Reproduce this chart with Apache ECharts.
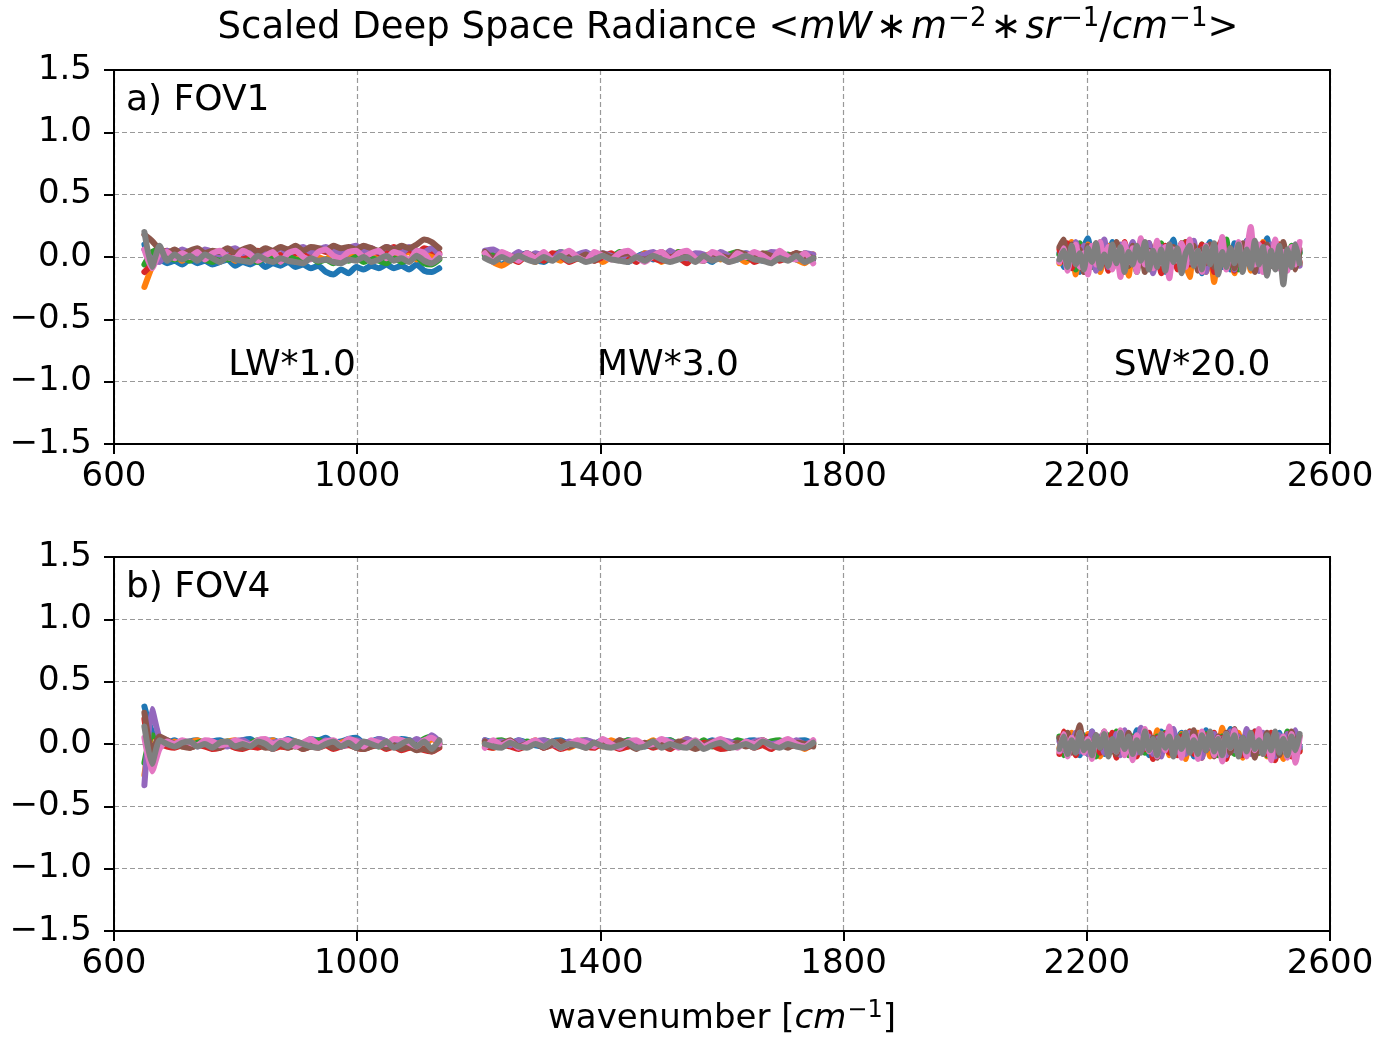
<!DOCTYPE html>
<html>
<head>
<meta charset="utf-8">
<script src="https://cdn.jsdelivr.net/npm/echarts@6/dist/echarts.min.js"></script>
<style>
  html, body { margin: 0; padding: 0; background: #fff; }
  #chart { width: 1381px; height: 1038px; }
</style>
</head>
<body>
<div id="chart"></div>
<script>
// band edges [cm-1]
const LW_BAND = [650, 1135]
const MW_BAND = [1210, 1750]
const SW_BAND = [2155, 2550]

const X_TICKS = [600, 1000, 1400, 1800, 2200, 2600]
const Y_TICKS = [-1.5, -1.0, -0.5, 0.0, 0.5, 1.0, 1.5]

// tab10 order: blue, orange, green, red, purple, brown, pink, gray
const COLORS = ['#1f77b4', '#ff7f0e', '#2ca02c', '#d62728', '#9467bd', '#8c564b', '#e377c2', '#7f7f7f']

// scaled radiance, in units of 0.01
const FOV1_LW = [
  [10,-6,-2,-5,-3,-6,-2,-5,-3,-6,-4,-2,-7,-4,-6,-3,-8,-5,-7,-4,-8,-6,-9,-7,-12,-14,-10,-13,-8,-10,-7,-9,-6,-9,-7,-10,-6,-11,-12,-9],
  [-24,-8,3,-2,1,-3,2,-1,3,-2,0,2,-3,1,-1,3,-2,0,2,-2,1,-3,2,0,-2,3,-1,1,4,-1,2,0,3,-1,2,4,-2,3,1,-1],
  [-6,4,6,1,-2,0,-3,1,-2,-4,0,-2,1,-3,-1,-4,0,-2,-4,1,-2,-3,0,-4,-2,-5,-1,-3,0,-4,-1,-3,-5,-1,-4,-2,0,-5,-6,-2],
  [-12,-6,3,5,1,4,0,3,5,1,4,2,6,1,3,5,2,4,1,6,3,5,2,6,4,7,3,6,8,4,7,3,5,8,4,6,2,7,5,3],
  [6,-2,-4,5,2,6,3,1,6,4,2,5,7,3,5,2,6,4,7,3,6,8,4,6,8,5,3,7,9,5,7,4,8,6,3,8,5,4,7,2],
  [18,13,6,3,6,2,5,7,3,5,4,7,3,6,8,4,7,5,8,6,9,5,8,7,5,9,7,8,6,9,7,5,8,6,9,7,10,14,12,7],
  [6,-9,3,4,-1,3,0,4,-2,3,5,0,-1,5,2,-3,1,4,-4,3,5,0,-2,4,6,1,-1,4,5,0,3,5,-1,4,2,-3,5,3,-4,2],
  [20,-8,9,-3,2,-2,1,-3,2,-1,-4,0,-2,-3,-4,1,-2,-4,-1,-3,-4,-5,-1,-3,-2,-4,-5,-2,-3,0,-4,-2,1,-3,-1,-4,1,-3,-5,-1]
]
const FOV1_MW = [
  [2,-3,-6,-2,1,3,-2,-4,1,2,-3,0,3,1,-3,1,2,-4,0,3,-2,1,3,-1,-3,2,0,-4,2,1,-2,3,0,-3,2,1,-2,3,0,-2],
  [3,-4,-7,-3,2,-1,-4,2,0,-3,3,-1,-2,2,-4,0,2,-1,-3,3,1,-4,0,4,1,-3,0,3,-2,2,0,-4,2,-1,-3,3,1,-2,-5,2],
  [1,4,2,-2,3,-1,2,-3,1,4,2,-1,-3,3,1,-1,4,2,-2,0,3,1,-1,4,2,0,-3,3,-1,2,4,0,-2,2,3,-1,2,-2,3,0],
  [4,-2,3,-1,-4,2,0,-3,3,1,-4,-1,2,-3,0,3,-2,0,-4,2,-1,-3,3,0,-5,2,-2,0,3,-3,0,2,-4,-1,2,-3,0,3,-2,-1],
  [5,6,2,0,4,-1,3,1,-2,4,0,2,4,-1,3,1,-2,3,0,2,4,-1,5,1,-1,3,2,-2,4,1,0,3,1,-1,4,3,1,-1,3,2],
  [4,-1,3,1,-2,3,0,2,-2,1,3,-1,2,-3,3,0,2,3,-1,-2,1,4,-1,3,1,-2,-3,3,1,-1,4,2,-1,3,1,-2,0,3,1,-1],
  [3,-4,4,1,-3,3,-1,4,-2,1,5,0,-3,4,1,-2,3,5,0,-4,1,4,-2,3,5,-1,-3,4,1,-4,3,0,4,1,-3,5,0,-2,3,-5],
  [-1,-4,0,-3,1,-2,-4,0,-3,1,-3,-1,-4,-2,1,-2,-3,-4,0,-3,1,-2,-4,-2,0,-4,1,-3,-1,-4,-2,1,-2,-3,-5,-1,-3,1,-4,-1]
]
const FOV1_SW = [
  [3,-8,10,-5,6,-12,8,15,-4,9,-10,5,-6,12,-3,7,-11,4,10,-7,2,-9,11,-5,8,-3,-12,6,14,-6,3,-9,10,-2,7,-13,5,12,-4,9,-8,3,-10,11,-6,4,13,-5,8,-11,2,15,-7,6,-9,10,-3,5,-8,4],
  [-5,6,-9,12,-14,4,-7,10,-3,8,-12,2,9,-6,11,-9,3,-15,7,-4,10,-8,5,-11,12,-2,8,-10,4,-7,11,-5,-16,6,-3,9,-12,7,-20,5,10,-8,3,-13,9,-4,6,-11,8,-6,12,-9,4,-7,10,-14,5,-3,8,-6],
  [2,9,-6,5,-10,11,-3,7,-8,4,12,-5,3,-9,8,-2,10,-7,5,-12,9,-4,6,-10,3,11,-6,8,-3,5,-9,12,-5,4,-7,10,-11,6,-2,9,-6,14,-8,3,-10,7,-4,11,-7,5,-9,8,-3,12,-6,4,-10,9,-5,3],
  [6,-4,11,-9,3,8,-12,5,-6,10,-3,7,-11,4,9,-7,12,-5,2,-10,8,-6,11,-3,5,-13,9,-4,7,-10,3,12,-6,8,-4,10,-9,5,-12,7,14,-6,3,-11,9,-5,12,-8,4,-10,11,-3,6,-9,10,-12,5,-6,9,-4],
  [-3,8,-10,4,12,-6,9,-5,3,-11,7,14,-8,5,-4,10,-7,3,12,-9,6,-2,11,-13,4,8,-6,10,-3,5,-10,7,-4,13,-8,6,-12,9,-5,3,11,-7,5,-10,8,-3,12,-6,9,-11,4,-8,10,-5,7,-13,6,-4,10,-7],
  [8,14,-5,10,-3,6,-12,9,-4,11,-8,3,7,-6,12,-10,4,-7,9,-3,13,-12,5,-8,10,-4,6,-13,8,-3,11,-7,4,9,-11,6,-5,10,-8,3,12,-6,7,-9,4,11,-5,8,-12,6,-3,10,-7,5,-9,12,-4,7,-10,6],
  [-4,7,-11,5,10,-8,3,-14,9,-6,12,-3,8,-10,5,-16,11,-4,7,-12,15,-6,4,-9,13,-5,8,-17,6,-3,11,-8,14,-6,5,-12,9,-3,10,-7,16,-10,6,-4,12,-8,5,24,-6,10,-12,7,-5,14,-9,4,-11,8,-6,12],
  [-2,5,-8,9,-6,3,-10,7,-4,11,-9,2,-7,10,-5,8,-12,4,-6,9,-3,12,-10,5,-8,6,-11,10,-4,7,-13,3,9,-7,5,-10,8,-6,11,-14,4,-8,7,-5,10,-12,6,-9,13,-6,8,-15,5,-10,9,-22,6,-8,10,-5]
]

const FOV4_LW = [
  [30,10,4,1,3,-1,2,3,0,2,3,0,1,3,4,0,2,3,1,4,2,0,4,3,5,1,2,4,5,1,2,4,2,0,4,3,1,3,5,0],
  [-25,6,5,-1,2,-2,1,3,0,-2,1,2,3,-1,-2,2,0,3,-2,1,2,-2,3,0,2,-2,1,3,0,-2,1,2,-2,3,0,-3,2,-1,4,0],
  [-15,7,4,0,-1,2,-2,1,2,-1,-2,2,0,-2,1,3,-1,-2,2,0,-2,1,-1,3,1,-1,-2,2,3,-1,1,-2,0,3,1,-2,0,4,6,1],
  [20,-12,0,-2,-3,-1,-3,-1,-2,-4,-3,-1,-3,-4,-2,-3,-1,-4,-2,-3,-1,-4,-2,-3,-1,-4,-2,-1,-3,-4,-2,-1,-4,-2,-5,-3,-2,-5,-6,-3],
  [-33,28,5,3,0,1,2,-2,1,2,-1,-2,2,3,0,1,-2,1,2,3,0,-2,2,-1,3,1,-2,0,3,1,0,4,2,-2,3,0,4,1,7,2],
  [25,-6,6,3,0,-2,-3,-1,0,-2,-3,1,-2,-3,-1,0,-3,-2,0,-3,-1,-4,-2,-1,0,-3,-1,0,-3,-4,-2,0,-3,-1,-4,-2,-5,-4,-6,-2],
  [5,-22,-4,2,0,3,1,-1,3,2,-1,0,3,1,-1,3,4,0,2,3,-2,1,4,0,2,3,-1,4,2,-2,3,1,0,4,3,1,-2,3,5,0],
  [14,-16,3,0,-2,1,2,-2,0,-3,1,2,-2,0,-2,2,0,-4,1,-2,2,0,-2,-3,0,2,-2,1,-3,2,0,-2,2,-3,0,3,-2,2,-4,3]
]
const FOV4_MW = [
  [3,1,-2,0,3,1,-1,-2,2,3,0,1,-2,0,3,1,-1,3,1,-2,0,2,3,-1,1,-2,0,3,1,0,-2,2,3,0,1,-1,-2,2,3,0],
  [1,-3,0,2,-2,0,3,-2,0,2,-3,0,1,0,-2,3,0,-2,1,0,3,-2,0,1,4,0,-2,1,0,-3,2,0,-2,3,0,1,-2,0,-4,1],
  [0,2,3,0,-2,2,0,3,1,-1,-2,2,3,0,1,-2,0,3,1,-1,2,-2,3,0,2,-1,3,-2,1,0,3,1,-2,0,2,3,-1,1,-2,0],
  [-2,-3,0,-2,-4,-1,1,-3,-1,-4,-2,0,-2,-3,1,-1,-4,-2,-1,0,-3,-1,-4,0,-2,-3,1,-1,-4,-3,-1,0,-3,-1,-4,0,-2,-1,-3,-1],
  [3,0,2,-1,3,0,2,3,0,-2,2,0,3,1,-1,-2,3,0,2,-1,0,3,2,0,4,1,-2,0,3,2,0,-1,2,3,0,1,-2,3,0,2],
  [2,-2,0,3,-2,0,1,-3,0,2,-2,0,-3,1,0,-2,3,0,-4,1,-2,0,-3,2,0,-4,-1,2,0,-3,1,-2,0,3,-2,0,-3,1,0,-2],
  [-3,3,-1,2,-3,0,3,-2,2,-3,0,3,1,-2,4,0,-3,2,3,-1,0,4,1,-3,0,3,-2,1,4,0,-3,2,0,3,-2,1,4,0,-2,3],
  [0,-2,-3,1,-2,-3,0,-2,2,-3,0,-1,-3,1,-2,-3,-1,1,-3,-2,2,-3,0,-2,-3,2,-4,-1,1,-3,-2,0,-3,2,-1,-3,0,-2,-3,1]
]
const FOV4_SW = [
  [4,-6,8,-3,5,-9,7,-2,10,-5,3,-8,6,-4,9,-7,2,8,-5,11,-3,6,-9,4,-6,10,-2,7,-8,3,9,-5,6,-10,4,-3,11,-7,5,-2,8,-6,12,-4,3,-9,7,-5,10,-3,6,-8,4,-11,9,-4,6,-7,10,-2],
  [-3,7,-5,9,-8,4,-2,8,-6,3,-10,6,-4,8,-7,2,10,-5,4,-9,7,-3,5,-8,11,-4,6,-9,3,-6,8,-12,5,-3,9,-7,4,-10,6,-4,13,-8,3,-6,9,-11,5,-2,8,-7,4,-10,7,-3,6,-12,4,-8,9,-5],
  [6,-9,4,-5,8,-3,6,-8,3,-10,5,-4,7,-6,10,-3,5,-9,6,-2,8,-7,4,-10,6,-3,9,-6,2,-8,7,-4,10,-5,3,-7,8,-3,5,-9,6,-2,7,-8,4,-5,9,-3,6,-7,3,-9,8,-4,5,-6,10,-3,7,-4],
  [-8,10,-5,3,-9,12,-4,6,-10,4,-7,8,-3,9,-11,5,-6,7,-2,-10,6,-4,9,-12,5,-3,8,-7,3,-9,6,-5,10,-8,4,-11,7,-3,9,-6,5,-12,8,-4,6,-9,3,-7,10,-5,4,-8,9,-13,6,-4,8,-10,5,-6],
  [2,-5,7,-3,9,-6,4,-8,10,-2,6,-7,3,-5,8,-9,11,-4,5,-7,13,-3,6,-8,4,-10,7,-2,12,-6,3,-8,9,-4,6,-11,5,-3,8,-7,4,-9,10,-5,6,-3,12,-8,4,-6,9,-2,5,-10,7,-4,8,-6,11,-3],
  [5,-4,9,-7,3,15,-6,4,-9,7,-3,10,-5,2,-8,6,-4,9,-10,3,-6,8,-3,5,-11,7,-4,10,-6,3,-9,5,-2,11,-7,4,-5,8,-10,6,-3,9,-7,12,-4,5,-8,3,-11,6,-4,9,-5,7,-9,4,-6,10,-4,6],
  [-6,8,-10,5,-3,9,-7,4,-12,6,-2,10,-8,3,-6,11,-9,5,-13,7,-4,12,-6,3,-10,8,-5,14,-7,4,-11,9,-3,6,-12,10,-4,7,-9,5,-14,8,-3,11,-6,4,-10,7,-5,12,-8,3,-13,9,-4,6,-11,8,-15,5],
  [-4,6,-8,3,-7,9,-5,2,-9,7,-3,8,-10,4,-6,9,-4,6,-8,3,-7,10,-5,4,-9,8,-3,6,-10,5,-4,9,-7,3,-8,7,-5,10,-6,4,-9,8,-3,7,-10,5,-6,9,-4,3,-8,7,-5,10,-7,4,-9,6,-5,8]
]

const FONT = 'DejaVu Sans'
const TICK_SIZE = 34
const TEXT_SIZE = 36

// plot boxes, pixels
const BOXES = [
  { left: 114, top: 70, width: 1216, height: 374 },
  { left: 114, top: 557, width: 1216, height: 374 }
]

function linspace(a, b, n) {
  const out = []
  for (let i = 0; i < n; i++) out.push(a + (b - a) * i / (n - 1))
  return out
}

// one line per colour, the three bands split by a gap
function buildSeries(bands, gridIndex) {
  const bandDefs = [LW_BAND, MW_BAND, SW_BAND]
  return COLORS.map((color, k) => {
    const data = []
    bands.forEach((band, b) => {
      const vals = band[k]
      const xs = linspace(bandDefs[b][0], bandDefs[b][1], vals.length)
      xs.forEach((x, i) => data.push([x, vals[i] / 100]))
      data.push([bandDefs[b][1] + 20, '-'])
    })
    return {
      type: 'line',
      xAxisIndex: gridIndex,
      yAxisIndex: gridIndex,
      data: data,
      showSymbol: false,
      smooth: 0.2,
      connectNulls: false,
      lineStyle: { color: color, width: 6, cap: 'round', join: 'round' },
      itemStyle: { color: color },
      silent: true,
      animation: false
    }
  })
}

function fmtTick(v) {
  const s = Math.abs(v).toFixed(1)
  return v < 0 ? '\u2212' + s : s
}

const axisCommon = {
  axisLine: { show: true, onZero: false, lineStyle: { color: '#000', width: 2 } },
  axisTick: { show: true, length: 10, lineStyle: { color: '#000', width: 2 } },
  splitLine: { show: true, lineStyle: { color: '#999', width: 1.2, type: [5, 3] } }
}

function xAxis(gridIndex) {
  return Object.assign({}, axisCommon, {
    type: 'value', gridIndex: gridIndex, min: X_TICKS[0], max: X_TICKS[X_TICKS.length - 1], interval: 400,
    axisLabel: { color: '#000', fontSize: TICK_SIZE, fontFamily: FONT, margin: 16, formatter: v => String(v) }
  })
}

function yAxis(gridIndex) {
  return Object.assign({}, axisCommon, {
    type: 'value', gridIndex: gridIndex, min: Y_TICKS[0], max: Y_TICKS[Y_TICKS.length - 1], interval: 0.5,
    axisLabel: { color: '#000', fontSize: TICK_SIZE, fontFamily: FONT, margin: 22, formatter: fmtTick }
  })
}

function label(text, x, y, align) {
  return {
    type: 'text', x: x, y: y, silent: true, z: 50,
    style: { text: text, fill: '#000', font: TEXT_SIZE + 'px "DejaVu Sans"', align: align || 'left', verticalAlign: 'middle' }
  }
}

function frame(box) {
  return {
    type: 'rect', silent: true, z: 100,
    shape: { x: box.left, y: box.top, width: box.width, height: box.height },
    style: { fill: null, stroke: '#000', lineWidth: 2 }
  }
}

function richStyles(size) {
  return {
    n: { fontSize: size, fontFamily: FONT, color: '#000', lineHeight: 44 },
    i: { fontSize: size, fontFamily: FONT, fontStyle: 'italic', color: '#000', lineHeight: 44 },
    o: { fontSize: size, fontFamily: FONT, color: '#000', lineHeight: 44, padding: [0, 4, 0, 4] },
    s: { fontSize: Math.round(size * 0.7), fontFamily: FONT, color: '#000', lineHeight: 44, padding: [0, 0, Math.round(size * 0.48), 1] }
  }
}

const option = {
  backgroundColor: '#fff',
  animation: false,
  grid: BOXES.map(b => Object.assign({ show: false }, b)),
  xAxis: [xAxis(0), xAxis(1)],
  yAxis: [yAxis(0), yAxis(1)],
  series: buildSeries([FOV1_LW, FOV1_MW, FOV1_SW], 0).concat(buildSeries([FOV4_LW, FOV4_MW, FOV4_SW], 1)),
  graphic: [
    frame(BOXES[0]),
    frame(BOXES[1]),
    {
      type: 'text', x: 728, y: 28, silent: true,
      style: {
        text: '{n|Scaled Deep Space Radiance <}{i|mW}{o|\u2217}{i|m}{s|\u22122}{o|\u2217}{i|sr}{s|\u22121}{n|/}{i|cm}{s|\u22121}{n|>}',
        rich: richStyles(37), align: 'center', verticalAlign: 'middle'
      }
    },
    {
      type: 'text', x: 722, y: 1019, silent: true,
      style: {
        text: '{n|wavenumber [}{i|cm}{s|\u22121}{n|]}',
        rich: richStyles(34), align: 'center', verticalAlign: 'middle'
      }
    },
    label('a) FOV1', 126, 101),
    label('LW*1.0', 292, 366, 'center'),
    label('MW*3.0', 668, 366, 'center'),
    label('SW*20.0', 1192, 366, 'center'),
    label('b) FOV4', 126, 588)
  ]
}

const chart = echarts.init(document.getElementById('chart'), null, { renderer: 'canvas' })
chart.setOption(option)
</script>
</body>
</html>
